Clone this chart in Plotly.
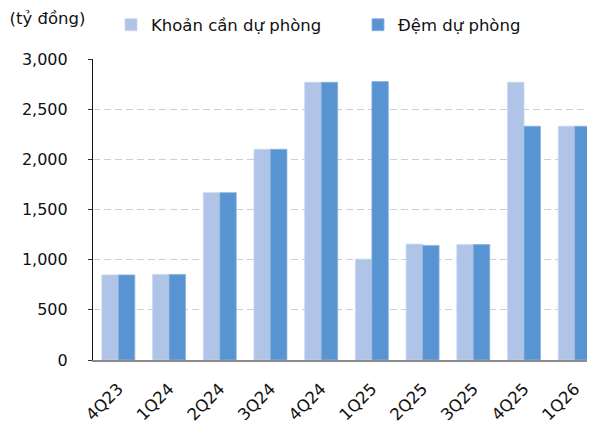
import plotly.graph_objects as go

categories = ["4Q23", "1Q24", "2Q24", "3Q24", "4Q24", "1Q25", "2Q25", "3Q25", "4Q25", "1Q26"]
khoan_can_du_phong = [848, 853, 1668, 2100, 2768, 1005, 1155, 1150, 2768, 2330]
dem_du_phong = [848, 853, 1668, 2100, 2768, 2775, 1142, 1150, 2330, 2330]
y_ticks = [0, 500, 1000, 1500, 2000, 2500, 3000]
y_tick_labels = ["0", "500", "1,000", "1,500", "2,000", "2,500", "3,000"]

FONT = "DejaVu Sans"
TXT = "#111111"
W, H = 587, 421  # page body has an 8px margin

fig = go.Figure()
fig.add_trace(go.Bar(
    name="Khoản cần dự phòng", x=categories, y=khoan_can_du_phong,
    marker=dict(color="#AFC4E7", line=dict(color="#C9D7EF", width=0.8)),
))
fig.add_trace(go.Bar(
    name="Đệm dự phòng", x=categories, y=dem_du_phong,
    marker=dict(color="#5894D1", line=dict(color="#8DB3E0", width=0.8)),
))

fig.update_layout(
    width=W, height=H,
    margin=dict(l=85, r=0, t=51, b=69, autoexpand=False),
    paper_bgcolor="white", plot_bgcolor="white",
    barmode="group", bargap=0.35, bargroupgap=0,
    font=dict(family=FONT, size=16, color=TXT),
    title=dict(text="(tỷ đồng)", x=1.5/W, xref="container", xanchor="left",
               y=1-10/H, yref="container", yanchor="middle",
               font=dict(family=FONT, size=16.5, color=TXT)),
    legend=dict(orientation="h", xref="container", x=103/W, xanchor="left",
                yref="container", y=1-17/H, yanchor="middle",
                font=dict(family=FONT, size=16.5, color=TXT),
                itemwidth=30, entrywidth=202, entrywidthmode="pixels",
                bgcolor="rgba(0,0,0,0)"),
    showlegend=True,
)
fig.update_xaxes(
    type="category", range=[-0.5, 9.4], automargin=False,
    showline=True, linecolor="#8C8C8C", linewidth=1.5,
    showgrid=False, ticks="", tickangle=-45, ticklabelstandoff=11,
    tickfont=dict(family=FONT, size=16.5, color=TXT),
)
fig.update_yaxes(
    range=[0, 3000], tickvals=y_ticks, ticktext=y_tick_labels, automargin=False,
    showline=True, linecolor="#111111", linewidth=1.2,
    ticks="outside", ticklen=4, tickcolor="#333333",
    ticklabelstandoff=17,
    showgrid=True, gridcolor="#CFCFCF", griddash="7px,4px", gridwidth=1,
    zeroline=False,
    tickfont=dict(family=FONT, size=16, color=TXT),
)

fig.write_html("out.html")
